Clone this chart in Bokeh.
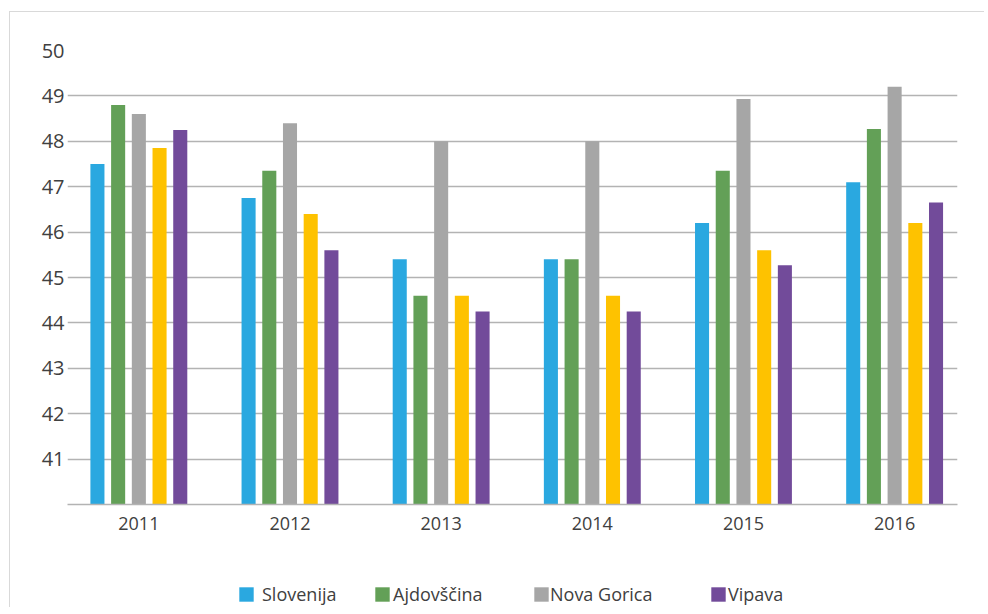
from bokeh.plotting import figure
from bokeh.models import FixedTicker, Legend, LegendItem, ColumnDataSource, Range1d
from bokeh.layouts import column
from bokeh.transform import dodge
from bokeh.embed import file_html
from bokeh.resources import INLINE

# ---- data ----
years = ["2011", "2012", "2013", "2014", "2015", "2016"]
slovenija = [47.5, 46.75, 45.4, 45.4, 46.2, 47.1]
ajdovscina = [48.8, 47.35, 44.6, 45.4, 47.35, 48.27]
nova_gorica = [48.6, 48.4, 48.0, 48.0, 48.93, 49.2]
unlabelled_series = [47.85, 46.4, 44.6, 44.6, 45.6, 46.2]
vipava = [48.25, 45.6, 44.25, 44.25, 45.27, 46.65]
y_ticks = [41, 42, 43, 44, 45, 46, 47, 48, 49, 50]
y_min, y_max = 40, 50

legend_labels = ["Slovenija", "Ajdovščina", "Nova Gorica", None, "Vipava"]
colors = ["#2aa8e0", "#63a057", "#a6a6a6", "#fec200", "#724b9a"]
offsets = [-0.274, -0.137, 0.0, 0.137, 0.274]
BAR_W = 0.093

FONT = "Open Sans"
TXT = "#404040"
GRID = "#b3b3b3"
BORDER = "1px solid #d9d9d9"

x_pos = list(range(len(years)))  # one slot per year
src = ColumnDataSource(dict(
    x=x_pos, year=years, s0=slovenija, s1=ajdovscina, s2=nova_gorica,
    s3=unlabelled_series, s4=vipava,
))
x_range = Range1d(-0.472, 5.416)

# ---- main chart ----
p = figure(
    x_range=x_range, y_range=Range1d(y_min, y_max),
    width=975, height=532,
    min_border_left=57, min_border_right=28, min_border_top=38, min_border_bottom=40,
    output_backend="svg", toolbar_location=None,
)
p.styles = {"margin-left": "9px", "margin-top": "11px",
            "border-left": BORDER, "border-top": BORDER}
p.outline_line_color = None

for i, (col, off) in enumerate(zip(colors, offsets)):
    p.vbar(x=dodge("x", off), top=f"s{i}", bottom=y_min,
           width=BAR_W, source=src, fill_color=col, line_color=None)

p.xgrid.grid_line_color = None
p.ygrid.ticker = FixedTicker(ticks=y_ticks)
p.ygrid.grid_line_color = GRID
p.ygrid.grid_line_width = 1.5

p.yaxis.ticker = FixedTicker(ticks=y_ticks)
p.yaxis.axis_line_color = None
p.yaxis.major_tick_line_color = None
p.yaxis.minor_tick_line_color = None
p.yaxis.major_tick_out = 0
p.yaxis.major_tick_in = 0
p.yaxis.minor_tick_out = 0
p.yaxis.major_label_standoff = 3
p.yaxis.major_label_text_font = FONT
p.yaxis.major_label_text_font_size = "20px"
p.yaxis.major_label_text_color = TXT

p.xaxis.ticker = FixedTicker(ticks=x_pos)
p.xaxis.major_label_overrides = {x: y for x, y in zip(x_pos, years)}
p.xaxis.axis_line_color = GRID
p.xaxis.axis_line_width = 1.5
p.xaxis.major_tick_line_color = None
p.xaxis.minor_tick_line_color = None
p.xaxis.major_tick_out = 0
p.xaxis.major_tick_in = 0
p.xaxis.minor_tick_out = 0
p.xaxis.major_label_standoff = 12
p.xaxis.major_label_text_font = FONT
p.xaxis.major_label_text_font_size = "18px"
p.xaxis.major_label_text_color = TXT

# ---- legend strip (hidden renderers carry the swatch colours) ----
lg = figure(width=975, height=64, min_border=0, output_backend="svg",
            toolbar_location=None, x_range=x_range, y_range=Range1d(0, 1),
            x_axis_location=None, y_axis_location=None)
lg.styles = {"margin-left": "9px", "border-left": BORDER}
lg.outline_line_color = None
lg.grid.visible = False

legend_x = {0: 170, 1: 306, 2: 465, 4: 642}
legend_standoff = {0: 7, 1: 2, 2: 0, 4: 1}
for i, lab in enumerate(legend_labels):
    if lab is None:
        continue
    r = lg.vbar(x="x", top=f"s{i}", bottom=y_min, width=BAR_W, source=src,
                fill_color=colors[i], line_color=None, visible=False)
    leg = Legend(
        items=[LegendItem(label=lab, renderers=[r])],
        location=(legend_x[i], 1), orientation="horizontal",
        glyph_width=18, glyph_height=18, label_standoff=legend_standoff[i],
        padding=0, margin=0, spacing=0,
        border_line_color=None, background_fill_alpha=0,
        inactive_fill_alpha=0,
        label_text_font=FONT, label_text_font_size="18px", label_text_color=TXT,
    )
    lg.add_layout(leg, "center")

open("out.html", "w").write(file_html(column(p, lg), INLINE))
